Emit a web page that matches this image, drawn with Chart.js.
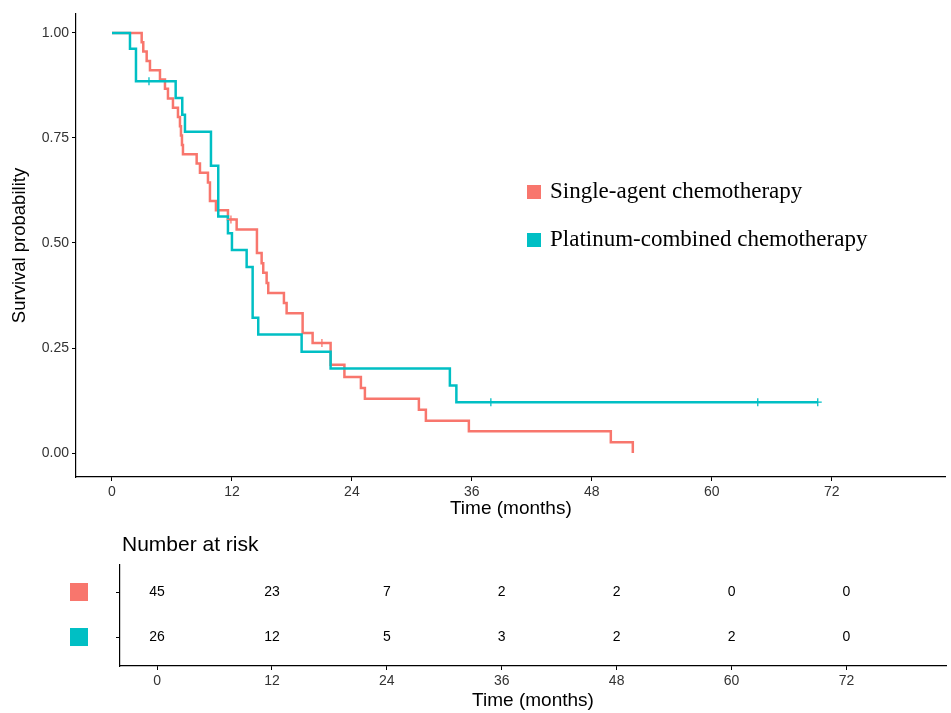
<!DOCTYPE html>
<html>
<head>
<meta charset="utf-8">
<script src="https://cdn.jsdelivr.net/npm/chart.js@4.4.1/dist/chart.umd.min.js"></script>
<style>
  html, body { margin: 0; padding: 0; background: #fff; }
  #wrap { position: relative; width: 951px; height: 713px; }
  canvas { position: absolute; left: 0; }
  #survChart { top: 0; }
  #riskChart { top: 525px; }
</style>
</head>
<body>
<div id="wrap">
  <canvas id="survChart" width="951" height="525"></canvas>
  <canvas id="riskChart" width="951" height="188"></canvas>
</div>
<script>
// groups
const GROUPS = ["Single-agent chemotherapy", "Platinum-combined chemotherapy"];
const COLORS = ["#F8766D", "#00BFC4"];

// Kaplan-Meier steps, single-agent
const singleTimes = [0, 2.97, 3.13, 3.47, 3.8, 4.8, 5.3, 5.6, 6.1, 6.6, 6.8, 6.9, 7.0, 7.1, 8.47, 8.8, 9.6, 9.8, 10.4, 11.6, 12.47, 14.5, 14.97, 15.13, 15.47, 15.63, 17.2, 17.47, 19.07, 20.07, 21.87, 23.25, 24.9, 25.3, 30.7, 31.4, 35.7, 49.9, 52.1];
const singleSurv = [1, 0.978, 0.956, 0.933, 0.911, 0.889, 0.867, 0.844, 0.822, 0.8, 0.778, 0.756, 0.733, 0.711, 0.689, 0.667, 0.644, 0.6, 0.578, 0.556, 0.532, 0.476, 0.452, 0.429, 0.405, 0.381, 0.357, 0.333, 0.286, 0.262, 0.21, 0.181, 0.155, 0.129, 0.103, 0.077, 0.052, 0.026, 0];
const singleCensorTimes = [11.9, 21.0];
const singleCensorSurv = [0.556, 0.262];

// Kaplan-Meier steps, platinum-combined
const platTimes = [0, 1.8, 2.4, 6.37, 7.03, 7.3, 9.9, 10.63, 11.6, 12.0, 13.47, 14.07, 14.63, 18.97, 21.87, 33.8, 34.45, 70.6];
const platSurv = [1, 0.962, 0.885, 0.845, 0.805, 0.765, 0.684, 0.563, 0.523, 0.483, 0.443, 0.322, 0.282, 0.241, 0.201, 0.161, 0.121, 0.121];
const platCensorTimes = [3.7, 37.9, 64.6, 70.6];
const platCensorSurv = [0.885, 0.121, 0.121, 0.121];

// axes + risk table
const timeTicks = [0, 12, 24, 36, 48, 60, 72];
const survTicks = [0, 0.25, 0.5, 0.75, 1];
const riskSingle = [45, 23, 7, 2, 2, 0, 0];
const riskPlat = [26, 12, 5, 3, 2, 2, 0];

const SANS = "'Liberation Sans', Arial, sans-serif";
const SERIF = "'Liberation Serif', 'Times New Roman', serif";
const AXIS_COLOR = "#000";
const TICK_TEXT = "#333";

function toPoints(xs, ys) {
  return xs.map((x, i) => ({ x, y: ys[i] }));
}

function fixedTicks(values) {
  return (scale) => {
    scale.ticks = values.map((v) => ({ value: v }));
  };
}

const kmLegend = {
  id: "kmLegend",
  afterDraw(chart, args, opts) {
    const ctx = chart.ctx;
    ctx.save();
    ctx.font = opts.font;
    ctx.textBaseline = "middle";
    ctx.textAlign = "left";
    opts.labels.forEach((lab, i) => {
      const y = opts.y + i * opts.rowGap;
      ctx.fillStyle = opts.colors[i];
      ctx.fillRect(opts.x, y - opts.box / 2, opts.box, opts.box);
      ctx.fillStyle = "#000";
      ctx.fillText(lab, opts.x + opts.box + opts.gap, y);
    });
    ctx.restore();
  },
};

const survCfg = {
  type: "scatter",
  data: {
    datasets: [
      {
        label: GROUPS[0],
        data: toPoints(singleTimes, singleSurv),
        showLine: true,
        stepped: true,
        borderColor: COLORS[0],
        borderWidth: 2.5,
        pointRadius: 0,
        fill: false,
        order: 2,
      },
      {
        label: GROUPS[1],
        data: toPoints(platTimes, platSurv),
        showLine: true,
        stepped: true,
        borderColor: COLORS[1],
        borderWidth: 2.5,
        pointRadius: 0,
        fill: false,
        order: 1,
      },
      {
        label: "censor-1",
        data: toPoints(singleCensorTimes, singleCensorSurv),
        pointStyle: "cross",
        pointRadius: 4,
        borderWidth: 1.3,
        borderColor: COLORS[0],
        order: 0,
      },
      {
        label: "censor-2",
        data: toPoints(platCensorTimes, platCensorSurv),
        pointStyle: "cross",
        pointRadius: 4,
        borderWidth: 1.3,
        borderColor: COLORS[1],
        order: 0,
      },
    ],
  },
  options: {
    responsive: false,
    animation: false,
    layout: { padding: { top: 14, right: 5, left: 0, bottom: 0 } },
    scales: {
      x: {
        type: "linear",
        min: -3.6,
        max: 83.4,
        afterBuildTicks: fixedTicks(timeTicks),
        afterFit: (s) => { s.height = 48; },
        grid: { display: true, drawOnChartArea: false, drawTicks: true, tickLength: 4, color: AXIS_COLOR },
        border: { display: true, color: AXIS_COLOR, width: 1.2 },
        ticks: { color: TICK_TEXT, font: { family: SANS, size: 14 }, padding: 3, maxRotation: 0 },
        title: { display: true, text: "Time (months)", color: "#000", font: { family: SANS, size: 19 }, padding: { top: 0, bottom: 5 } },
      },
      y: {
        type: "linear",
        min: -0.057,
        max: 1.045,
        afterBuildTicks: fixedTicks(survTicks),
        afterFit: (s) => { s.width = 76; },
        grid: { display: true, drawOnChartArea: false, drawTicks: true, tickLength: 4, color: AXIS_COLOR },
        border: { display: true, color: AXIS_COLOR, width: 1.2 },
        ticks: { color: TICK_TEXT, font: { family: SANS, size: 14 }, padding: 3, callback: (v) => Number(v).toFixed(2) },
        title: { display: true, text: "Survival probability", color: "#000", font: { family: SANS, size: 18.5 }, padding: { top: 9, bottom: 0 } },
      },
    },
    plugins: {
      legend: { display: false },
      tooltip: { enabled: false },
      kmLegend: {
        labels: GROUPS,
        colors: COLORS,
        x: 527,
        y: 192,
        rowGap: 48,
        box: 14,
        gap: 9,
        font: "23px " + SERIF,
      },
    },
  },
  plugins: [kmLegend],
};

new Chart(document.getElementById("survChart").getContext("2d"), survCfg);

// risk table: rows 2 (single) and 1 (platinum)
const ROW_SINGLE = 2;
const ROW_PLAT = 1;

const riskTable = {
  id: "riskTable",
  afterDraw(chart, args, opts) {
    const ctx = chart.ctx;
    const y = chart.scales.y;
    ctx.save();
    // numbers
    ctx.font = "14px " + SANS;
    ctx.fillStyle = "#000";
    ctx.textAlign = "center";
    ctx.textBaseline = "middle";
    chart.data.datasets.forEach((ds, di) => {
      const meta = chart.getDatasetMeta(di);
      meta.data.forEach((pt, i) => {
        ctx.fillText(String(ds.counts[i]), pt.x, pt.y);
      });
    });
    // colour swatches as row labels
    [ROW_SINGLE, ROW_PLAT].forEach((row, i) => {
      const py = y.getPixelForValue(row);
      ctx.fillStyle = COLORS[i];
      ctx.fillRect(opts.swatchX, py - opts.swatch / 2, opts.swatch, opts.swatch);
    });
    // title
    ctx.fillStyle = "#000";
    ctx.textAlign = "left";
    ctx.font = "21px " + SANS;
    ctx.fillText("Number at risk", opts.titleX, opts.titleY);
    ctx.restore();
  },
};

const riskCfg = {
  type: "scatter",
  data: {
    datasets: [
      { label: GROUPS[0], data: timeTicks.map((t) => ({ x: t, y: ROW_SINGLE })), counts: riskSingle, pointRadius: 0 },
      { label: GROUPS[1], data: timeTicks.map((t) => ({ x: t, y: ROW_PLAT })), counts: riskPlat, pointRadius: 0 },
    ],
  },
  options: {
    responsive: false,
    animation: false,
    layout: { padding: { top: 40, right: 5, left: 0, bottom: 0 } },
    scales: {
      x: {
        type: "linear",
        min: -3.87,
        max: 82.4,
        afterBuildTicks: fixedTicks(timeTicks),
        afterFit: (s) => { s.height = 47; },
        grid: { display: true, drawOnChartArea: false, drawTicks: true, tickLength: 4, color: AXIS_COLOR },
        border: { display: true, color: AXIS_COLOR, width: 1.2 },
        ticks: { color: TICK_TEXT, font: { family: SANS, size: 14 }, padding: 3, maxRotation: 0 },
        title: { display: true, text: "Time (months)", color: "#000", font: { family: SANS, size: 19 }, padding: { top: 0, bottom: 1 } },
      },
      y: {
        type: "linear",
        min: 0.356,
        max: 2.6,
        afterBuildTicks: fixedTicks([ROW_PLAT, ROW_SINGLE]),
        afterFit: (s) => { s.width = 120; },
        grid: { display: true, drawOnChartArea: false, drawTicks: true, tickLength: 4, color: AXIS_COLOR },
        border: { display: true, color: AXIS_COLOR, width: 1.2 },
        ticks: { display: false },
      },
    },
    plugins: {
      legend: { display: false },
      tooltip: { enabled: false },
      riskTable: { swatchX: 70, swatch: 18, titleX: 122, titleY: 20 },
    },
  },
  plugins: [riskTable],
};

new Chart(document.getElementById("riskChart").getContext("2d"), riskCfg);
</script>
</body>
</html>
